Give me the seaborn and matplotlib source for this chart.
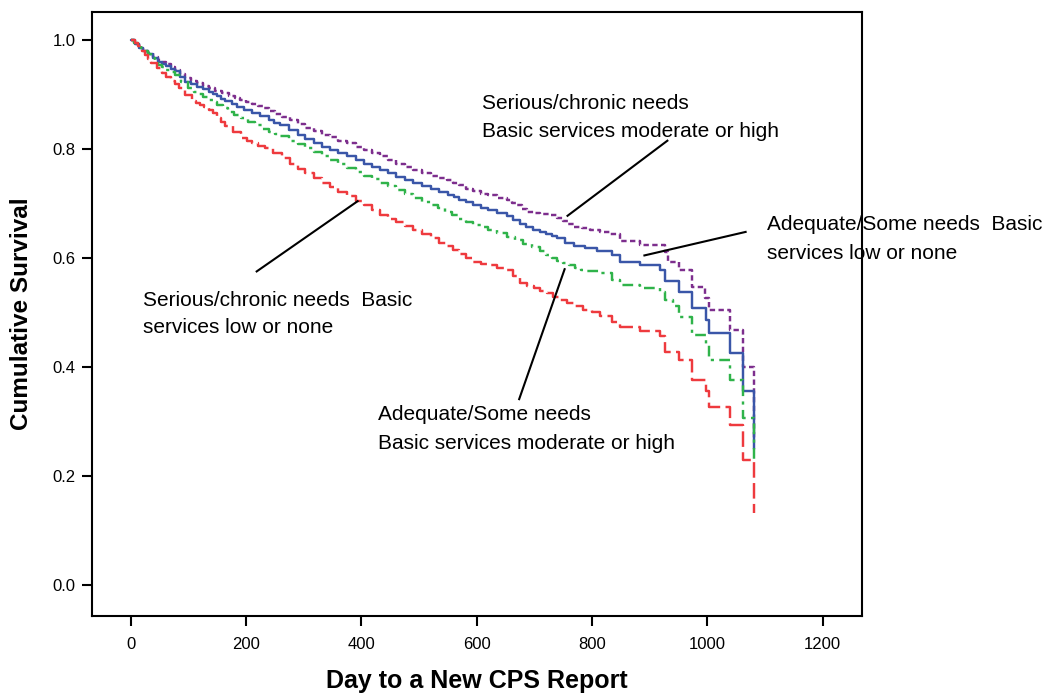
import matplotlib
matplotlib.use("Agg")
import matplotlib.pyplot as plt
import seaborn as sns
import pandas as pd

# ---- data ----
purple_days = [0, 6, 15, 22, 30, 39, 48, 55, 62, 70, 77, 85, 94, 104, 115, 125, 135, 146, 158, 170, 181, 190,
               200, 210, 221, 230, 240, 251, 262, 276, 290, 303, 317, 331, 345, 360, 375, 390, 405, 418, 432,
               446, 460, 475, 490, 505, 520, 534, 548, 559, 570, 582, 594, 607, 620, 636, 652, 661, 670, 679,
               687, 699, 710, 727, 739, 750, 759, 768, 782, 797, 814, 831, 849, 883, 927, 932, 950, 973, 995,
               1002, 1040, 1061, 1080]
purple_surv = [1.0, .993, .985, .980, .975, .969, .963, .959, .955, .950, .945, .937, .930, .925, .920, .915,
               .911, .906, .902, .897, .893, .889, .886, .882, .878, .874, .869, .864, .859, .852, .845, .838,
               .832, .826, .821, .815, .810, .804, .798, .792, .786, .779, .773, .767, .761, .756, .751, .747,
               .743, .738, .733, .727, .722, .718, .715, .710, .706, .701, .697, .690, .685, .683, .681, .679,
               .673, .668, .662, .657, .654, .651, .648, .643, .630, .624, .611, .593, .578, .547, .526, .505,
               .468, .400, .27]

blue_days = [0, 7, 15, 22, 30, 39, 48, 55, 62, 70, 77, 85, 94, 104, 115, 125, 135, 143, 150, 157, 164, 175,
             185, 197, 210, 224, 239, 249, 259, 275, 290, 303, 317, 331, 345, 360, 375, 390, 405, 418, 432,
             446, 460, 475, 490, 505, 520, 535, 551, 560, 570, 582, 594, 607, 620, 636, 652, 663, 675, 686,
             698, 709, 720, 730, 739, 753, 768, 788, 808, 834, 849, 883, 918, 927, 950, 973, 997, 1002, 1040,
             1061, 1080]
blue_surv = [1.0, .993, .985, .979, .973, .966, .960, .956, .952, .947, .942, .932, .923, .918, .913, .909,
             .905, .900, .896, .891, .887, .882, .877, .871, .866, .860, .853, .848, .844, .835, .826, .818,
             .810, .804, .798, .792, .786, .779, .773, .767, .761, .755, .749, .743, .737, .732, .727, .721,
             .716, .711, .707, .702, .697, .692, .688, .682, .676, .669, .663, .657, .651, .647, .643, .640,
             .636, .628, .621, .618, .613, .605, .593, .587, .578, .557, .538, .508, .486, .462, .425, .355,
             .25]

green_days = [0, 6, 12, 18, 25, 30, 36, 42, 48, 55, 62, 70, 77, 88, 100, 109, 118, 126, 135, 142, 150, 160,
              169, 180, 192, 204, 216, 228, 240, 250, 259, 275, 290, 303, 317, 331, 345, 360, 375, 390, 405,
              418, 432, 446, 460, 475, 490, 505, 520, 533, 545, 557, 570, 582, 594, 607, 620, 636, 652, 666,
              680, 695, 710, 720, 730, 740, 750, 760, 770, 780, 791, 814, 834, 849, 883, 918, 927, 940, 950,
              973, 997, 1002, 1040, 1061, 1080]
green_surv = [1.0, .995, .990, .985, .979, .973, .967, .960, .954, .950, .945, .940, .936, .923, .911, .905,
              .900, .895, .890, .885, .880, .874, .868, .862, .856, .850, .844, .837, .831, .827, .823, .815,
              .808, .801, .795, .787, .780, .772, .765, .758, .751, .744, .737, .731, .724, .717, .710, .703,
              .697, .691, .685, .678, .672, .666, .661, .656, .651, .645, .639, .632, .626, .619, .612, .606,
              .600, .595, .590, .586, .582, .578, .575, .572, .560, .551, .545, .538, .523, .511, .492, .459,
              .440, .413, .376, .306, .224]

red_days = [0, 7, 13, 19, 25, 30, 36, 45, 54, 62, 70, 76, 83, 94, 106, 113, 120, 128, 135, 142, 150, 157, 164,
            178, 192, 201, 210, 221, 233, 247, 262, 276, 290, 303, 317, 331, 345, 360, 375, 390, 405, 418, 432,
            446, 460, 475, 490, 505, 520, 534, 548, 559, 570, 582, 594, 607, 620, 636, 652, 663, 675, 688, 700,
            710, 721, 733, 745, 756, 768, 784, 800, 814, 834, 849, 883, 918, 927, 950, 973, 997, 1002, 1040,
            1061, 1080]
red_surv = [1.0, .994, .988, .980, .972, .965, .957, .948, .939, .932, .925, .918, .911, .899, .887, .884, .880,
            .876, .872, .865, .857, .849, .841, .830, .820, .815, .811, .806, .801, .792, .783, .773, .763,
            .755, .746, .738, .730, .721, .713, .705, .697, .688, .679, .672, .665, .658, .651, .643, .636,
            .628, .621, .614, .607, .600, .593, .589, .586, .582, .578, .566, .554, .549, .545, .540, .535,
            .529, .523, .517, .511, .505, .500, .494, .483, .474, .465, .456, .428, .413, .376, .355, .327,
            .294, .229, .132]

x_ticks = [0, 200, 400, 600, 800, 1000, 1200]
y_ticks = [0.0, 0.2, 0.4, 0.6, 0.8, 1.0]
y_tick_labels = ["0.0", "0.2", "0.4", "0.6", "0.8", "1.0"]

# annotation texts (lines), anchors (day, survival at baselines) and leader lines
ann_lines = [
    ["Serious/chronic needs", "Basic services moderate or high"],
    ["Adequate/Some needs  Basic", "services low or none"],
    ["Serious/chronic needs  Basic", "services low or none"],
    ["Adequate/Some needs", "Basic services moderate or high"],
]
ann_x = [609, 1104, 22, 429]
ann_y1 = [0.873, 0.651, 0.511, 0.303]
ann_y2 = [0.822, 0.598, 0.462, 0.250]
leader_x = [[932, 756], [1068, 889], [217, 395], [673, 753]]
leader_y = [[0.816, 0.676], [0.648, 0.604], [0.574, 0.705], [0.339, 0.581]]

# ---- styling ----
sns.set_theme(style="ticks")
plt.rcParams["font.family"] = ["Liberation Sans", "DejaVu Sans"]
plt.rcParams["axes.linewidth"] = 1.5

fig = plt.figure(figsize=(10.53, 6.96), dpi=100)
ax = fig.add_axes([0.0874, 0.1149, 0.8186 - 0.0874, 0.9828 - 0.1149])

series = [
    (purple_days, purple_surv, "#7d2e8d", (0, (2.2, 1.4))),
    (blue_days, blue_surv, "#3a56a8", "-"),
    (green_days, green_surv, "#2fb34a", (0, (4.4, 2.2, 1.3, 2.2))),
    (red_days, red_surv, "#ee3a3e", (0, (6.4, 2.2))),
]
for d, s, c, ls in series:
    df = pd.DataFrame({"day": d, "surv": s})
    sns.lineplot(data=df, x="day", y="surv", ax=ax, color=c, linewidth=1.75,
                 linestyle=ls, drawstyle="steps-post", estimator=None, sort=False)

for lx, ly in zip(leader_x, leader_y):
    ax.plot(lx, ly, color="black", linewidth=1.5, solid_capstyle="butt")

for lines, x, y1, y2 in zip(ann_lines, ann_x, ann_y1, ann_y2):
    ax.text(x, y1, lines[0], fontsize=15, ha="left", va="baseline", color="black")
    ax.text(x, y2, lines[1], fontsize=15, ha="left", va="baseline", color="black")

ax.set_xlim(-67, 1268)
ax.set_ylim(-0.057, 1.051)
ax.set_xticks(x_ticks)
ax.set_xticklabels([str(t) for t in x_ticks])
ax.set_yticks(y_ticks)
ax.set_yticklabels(y_tick_labels)
ax.tick_params(axis="both", length=7, width=1.5, labelsize=12, color="black", labelcolor="black")
ax.tick_params(axis="x", pad=8)
ax.tick_params(axis="y", pad=5)

for sp in ax.spines.values():
    sp.set_visible(True)
    sp.set_color("black")
    sp.set_linewidth(1.5)

ax.set_xlabel("Day to a New CPS Report", fontsize=18, fontweight="bold", labelpad=12, color="black")
ax.set_ylabel("Cumulative Survival", fontsize=17.5, fontweight="bold", labelpad=14, color="black")

fig.savefig("out.png", dpi=100, facecolor="white")
